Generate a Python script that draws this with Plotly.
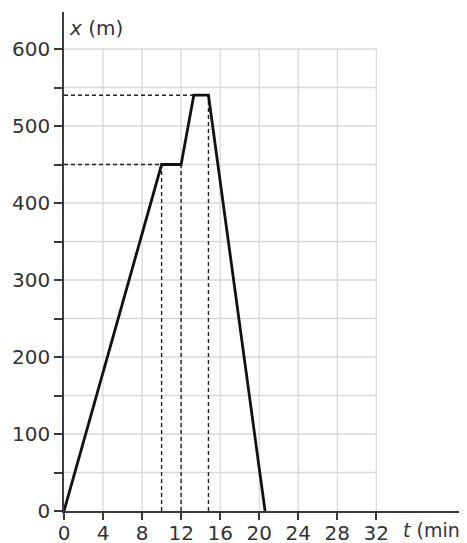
import plotly.graph_objects as go

# data
t_min = [0, 10, 12, 13.3, 14.8, 20.6]
x_m = [0, 450, 450, 540, 540, 0]
x_ticks = [0, 4, 8, 12, 16, 20, 24, 28, 32]
y_ticks = [0, 50, 100, 150, 200, 250, 300, 350, 400, 450, 500, 550, 600]
y_tick_labels = ["0", "", "100", "", "200", "", "300", "", "400", "", "500", "", "600"]

# page has an 8px body margin, so the figure is sized to fit inside the window
W, H = 459, 535
ML, MR, MT, MB = 56, 0, 4, 32
px_per_t = 9.76
px_per_y = 0.77
x_max = (W - ML - MR) / px_per_t
y_max = (H - MT - MB) / px_per_y

FONT = "DejaVu Sans"
grid_col = "#d9d9d9"
axis_col = "#3a3a3a"
text_col = "#333333"

fig = go.Figure()

# grid (only within 0..32 and 0..600)
gx_max = x_ticks[-1]
gy_max = y_ticks[-1]
for xv in x_ticks[1:]:
    fig.add_shape(type="line", x0=xv, x1=xv, y0=0, y1=gy_max, xref="x", yref="y",
                  line=dict(color=grid_col, width=1.3), layer="below")
for yv in y_ticks[1:]:
    fig.add_shape(type="line", x0=0, x1=gx_max, y0=yv, y1=yv, xref="x", yref="y",
                  line=dict(color=grid_col, width=1.3), layer="below")

# dashed guides
dash_style = dict(color="#222222", width=1.4, dash="4px,3px")
fig.add_trace(go.Scatter(x=[0, t_min[1]], y=[x_m[1], x_m[1]], mode="lines",
                         line=dash_style, hoverinfo="skip", showlegend=False))
fig.add_trace(go.Scatter(x=[0, t_min[3]], y=[x_m[3], x_m[3]], mode="lines",
                         line=dash_style, hoverinfo="skip", showlegend=False))
for i in (1, 2, 4):
    fig.add_trace(go.Scatter(x=[t_min[i], t_min[i]], y=[0, x_m[i]], mode="lines",
                             line=dash_style, hoverinfo="skip", showlegend=False))

# main line
fig.add_trace(go.Scatter(x=t_min, y=x_m, mode="lines",
                         line=dict(color="#111111", width=2.8),
                         showlegend=False, cliponaxis=False))

fig.update_xaxes(range=[0, x_max], tickmode="array", tickvals=x_ticks,
                 ticktext=[str(v) for v in x_ticks], automargin=False,
                 ticklabelstandoff=-4,
                 showgrid=False, zeroline=False, showline=True, linecolor=axis_col,
                 linewidth=1.5, ticks="outside", ticklen=7, tickwidth=1.5, tickcolor=axis_col,
                 tickfont=dict(family=FONT, size=20, color=text_col))
fig.update_yaxes(range=[0, y_max], tickmode="array", tickvals=y_ticks,
                 ticktext=y_tick_labels, automargin=False,
                 showgrid=False, zeroline=False, showline=True, linecolor=axis_col,
                 linewidth=1.5, ticks="outside", ticklen=8, tickwidth=1.5, tickcolor=axis_col,
                 tickfont=dict(family=FONT, size=20, color=text_col))

fig.add_annotation(text="<i>x</i> (m)", xref="paper", yref="paper", x=0, y=1,
                   xshift=3, yshift=-2, xanchor="left", yanchor="top", showarrow=False,
                   font=dict(family=FONT, size=20, color=text_col))
fig.add_annotation(text="<i>t</i> (min)", xref="paper", yref="paper", x=1, y=0,
                   xshift=-66, yshift=-6, xanchor="left", yanchor="top", showarrow=False,
                   font=dict(family=FONT, size=19, color=text_col))

fig.update_layout(width=W, height=H, margin=dict(l=ML, r=MR, t=MT, b=MB),
                  plot_bgcolor="white", paper_bgcolor="white")

fig.write_html("out.html")
